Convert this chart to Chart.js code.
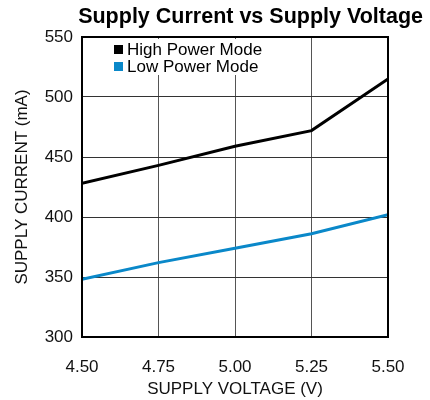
<!DOCTYPE html>
<html>
<head>
<meta charset="utf-8">
<script src="https://cdn.jsdelivr.net/npm/chart.js@4"></script>
<style>
  html, body { margin: 0; padding: 0; background: #fff; }
  #wrap { width: 430px; height: 400px; }
</style>
</head>
<body>
<div id="wrap"><canvas id="chartCurrent"></canvas></div>
<script>
// data
var voltages = [4.50, 4.75, 5.00, 5.25, 5.50];
var highPower = [428, 443, 459, 472, 515];
var lowPower = [348, 362, 374, 386, 402];
var xTicks = [4.50, 4.75, 5.00, 5.25, 5.50];
var yTicks = [300, 350, 400, 450, 500, 550];

var FONT = 'Liberation Sans, Arial, sans-serif';
var BLUE = '#0a88c9';

function toPoints(ys) {
    return voltages.map(function (v, i) { return { x: v, y: ys[i] }; });
}

// title + in-plot legend (legend box hides the grid behind it)
var decor = {
    id: 'decor',
    beforeDatasetsDraw: function (chart) {
        var c = chart.ctx, a = chart.chartArea;
        c.save();
        c.fillStyle = '#fff';
        c.fillRect(a.left + 2, a.top + 2, 182, 36);
        var items = [['High Power Mode', '#000'], ['Low Power Mode', BLUE]];
        c.font = '17px ' + FONT;
        c.textBaseline = 'middle';
        items.forEach(function (it, i) {
            var y = a.top + 12 + i * 17;
            c.fillStyle = it[1];
            c.fillRect(a.left + 32, y - 4, 9, 9);
            c.fillStyle = '#000';
            c.fillText(it[0], a.left + 45, y + 1);
        });
        c.restore();
    },
    afterDraw: function (chart) {
        var c = chart.ctx;
        c.save();
        c.font = 'bold 21.5px ' + FONT;
        c.fillStyle = '#000';
        c.textAlign = 'right';
        c.textBaseline = 'middle';
        c.fillText('Supply Current vs Supply Voltage', chart.width - 7, 17);
        c.restore();
    }
};

var ctx = document.getElementById('chartCurrent').getContext('2d');
var chartCurrent = new Chart(ctx, {
    type: 'line',
    data: {
        datasets: [{
            label: 'High Power Mode',
            data: toPoints(highPower),
            borderColor: '#000',
            backgroundColor: '#000',
            borderWidth: 3,
            pointRadius: 0,
            tension: 0
        }, {
            label: 'Low Power Mode',
            data: toPoints(lowPower),
            borderColor: BLUE,
            backgroundColor: BLUE,
            borderWidth: 3,
            pointRadius: 0,
            tension: 0
        }]
    },
    options: {
        responsive: true,
        maintainAspectRatio: false,
        animation: false,
        layout: { padding: { top: 37, right: 42, left: 12, bottom: 0 } },
        plugins: {
            legend: { display: false },
            title: { display: false },
            tooltip: { enabled: false }
        },
        scales: {
            x: {
                type: 'linear',
                min: 4.5,
                max: 5.5,
                afterBuildTicks: function (axis) {
                    axis.ticks = xTicks.map(function (v) { return { value: v }; });
                },
                afterFit: function (axis) { axis.height = 63; },
                ticks: {
                    color: '#111',
                    font: { family: FONT, size: 17 },
                    padding: 20,
                    maxRotation: 0,
                    callback: function (v) { return v.toFixed(2); }
                },
                grid: { color: '#555', lineWidth: 1, drawTicks: false },
                border: { color: '#000', width: 2 },
                title: {
                    display: true,
                    text: 'SUPPLY VOLTAGE (V)',
                    color: '#111',
                    font: { family: FONT, size: 17 },
                    padding: { top: 0, bottom: 0 }
                }
            },
            y: {
                min: 300,
                max: 550,
                afterBuildTicks: function (axis) {
                    axis.ticks = yTicks.map(function (v) { return { value: v }; });
                },
                afterFit: function (axis) { axis.width = 70; },
                ticks: {
                    color: '#111',
                    font: { family: FONT, size: 17 },
                    padding: 9
                },
                grid: { color: '#333', lineWidth: 1, drawTicks: false },
                border: { color: '#000', width: 2 },
                title: {
                    display: true,
                    text: 'SUPPLY CURRENT (mA)',
                    color: '#111',
                    font: { family: FONT, size: 17 },
                    padding: { top: 0, bottom: 0 }
                }
            }
        }
    },
    plugins: [decor, {
        // frame around the plot area
        id: 'frame',
        afterDatasetsDraw: function (chart) {
            var c = chart.ctx, a = chart.chartArea;
            c.save();
            c.strokeStyle = '#000';
            c.lineWidth = 2;
            c.strokeRect(a.left, a.top, a.right - a.left, a.bottom - a.top);
            c.restore();
        }
    }]
});
</script>
</body>
</html>
